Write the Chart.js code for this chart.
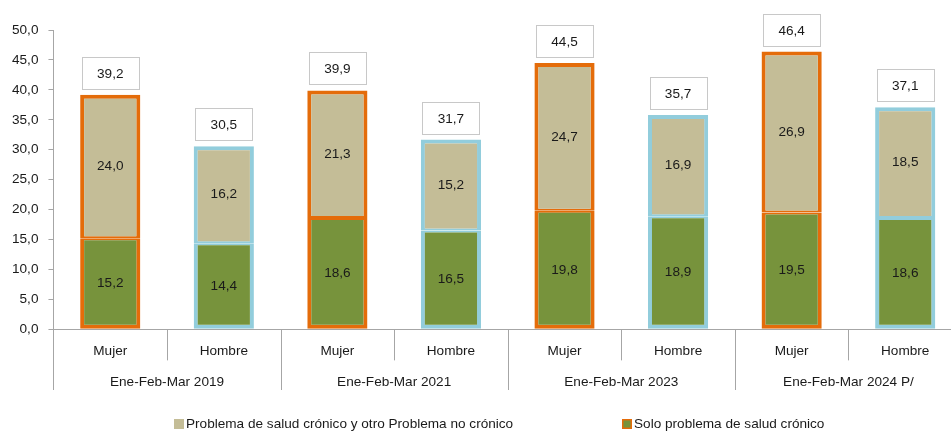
<!DOCTYPE html>
<html>
<head>
<meta charset="utf-8">
<script src="https://cdn.jsdelivr.net/npm/chart.js@4.4.0/dist/chart.umd.min.js"></script>
<style>
  html, body { margin: 0; padding: 0; background: #fff; overflow: hidden; }
  #wrap { width: 962px; height: 432px; }
</style>
</head>
<body>
<div id="wrap"><canvas id="chart"></canvas></div>
<script>
const categories = ['Mujer', 'Hombre', 'Mujer', 'Hombre', 'Mujer', 'Hombre', 'Mujer', 'Hombre'];
const periods = ['Ene-Feb-Mar 2019', 'Ene-Feb-Mar 2021', 'Ene-Feb-Mar 2023', 'Ene-Feb-Mar 2024 P/'];
const soloCronico = [15.2, 14.4, 18.6, 16.5, 19.8, 18.9, 19.5, 18.6];
const cronicoYOtro = [24.0, 16.2, 21.3, 15.2, 24.7, 16.9, 26.9, 18.5];
const totals = [39.2, 30.5, 39.9, 31.7, 44.5, 35.7, 46.4, 37.1];
const yTicks = [0, 5, 10, 15, 20, 25, 30, 35, 40, 45, 50];

const ORANGE = '#e46c0a';
const BLUE = '#92cddc';
const LINE = '#a6a6a6';
const FONT = "13.6px 'Liberation Sans', Arial, sans-serif";
const borders = categories.map(c => c === 'Mujer' ? ORANGE : BLUE);
const fmt = v => v.toFixed(1).replace('.', ',');

Chart.defaults.font.family = "'Liberation Sans', Arial, sans-serif";
Chart.defaults.font.size = 13.6;
Chart.defaults.color = '#1a1a1a';

// values inside segments + boxed totals
const labelsPlugin = {
  id: 'labels',
  afterDatasetsDraw(chart) {
    const ctx = chart.ctx;
    ctx.save();
    ctx.font = FONT;
    ctx.fillStyle = '#1a1a1a';
    ctx.textAlign = 'center';
    ctx.textBaseline = 'middle';
    chart.data.datasets.forEach((ds, di) => {
      chart.getDatasetMeta(di).data.forEach((bar, i) => {
        ctx.fillText(fmt(ds.data[i]), bar.x, (bar.y + bar.base) / 2);
      });
    });
    chart.getDatasetMeta(1).data.forEach((bar, i) => {
      const w = 57, h = 32;
      const y1 = Math.round(bar.y - 6 - h);
      const x1 = Math.round(bar.x - w / 2);
      ctx.fillStyle = '#fff';
      ctx.fillRect(x1, y1, w, h);
      ctx.strokeStyle = '#c8c8c8';
      ctx.lineWidth = 1;
      ctx.strokeRect(x1 + 0.5, y1 + 0.5, w, h);
      ctx.fillStyle = '#1a1a1a';
      ctx.fillText(fmt(totals[i]), bar.x, y1 + h / 2 + 1);
    });
    ctx.restore();
  }
};

// separators under the x axis (short between bars, long between periods)
const separatorsPlugin = {
  id: 'separators',
  afterDraw(chart) {
    const xs = chart.scales.x, x2 = chart.scales.x2;
    const step = xs.getPixelForValue(1) - xs.getPixelForValue(0);
    const ctx = chart.ctx;
    ctx.save();
    ctx.strokeStyle = LINE;
    ctx.lineWidth = 1;
    for (let i = 0; i <= categories.length; i++) {
      const px = Math.round(xs.getPixelForValue(i) - step / 2) + 0.5;
      const yEnd = i % 2 === 0 ? x2.bottom : xs.top + 31;
      ctx.beginPath();
      ctx.moveTo(px, xs.top);
      ctx.lineTo(px, yEnd);
      ctx.stroke();
    }
    ctx.restore();
  }
};

// legend drawn at the bottom
const legendPlugin = {
  id: 'bottomLegend',
  afterDraw(chart) {
    const ctx = chart.ctx;
    const items = [
      { ds: chart.data.datasets[1], x: 174 },
      { ds: chart.data.datasets[0], x: 622 }
    ];
    ctx.save();
    ctx.font = FONT;
    ctx.textBaseline = 'middle';
    ctx.textAlign = 'left';
    items.forEach((it, k) => {
      const y = 424;
      if (k === 1) {
        ctx.fillStyle = ORANGE;
        ctx.fillRect(it.x, y - 5, 10, 10);
        ctx.fillStyle = it.ds.backgroundColor;
        ctx.fillRect(it.x + 1.5, y - 3.5, 7, 7);
      } else {
        ctx.fillStyle = it.ds.backgroundColor;
        ctx.fillRect(it.x, y - 5, 10, 10);
      }
      ctx.fillStyle = '#1a1a1a';
      ctx.fillText(it.ds.label, it.x + 12, y);
    });
    ctx.restore();
  }
};

new Chart(document.getElementById('chart'), {
  type: 'bar',
  data: {
    labels: categories,
    datasets: [
      {
        label: 'Solo problema de salud crónico',
        data: soloCronico,
        backgroundColor: '#77933c',
        borderColor: borders,
        borderWidth: { top: 2, left: 4, right: 4, bottom: 4 },
        borderSkipped: false
      },
      {
        label: 'Problema de salud crónico y otro Problema no crónico',
        data: cronicoYOtro,
        backgroundColor: '#c4bd97',
        borderColor: borders,
        borderWidth: { top: 4, left: 4, right: 4, bottom: 2 },
        borderSkipped: false
      }
    ]
  },
  options: {
    responsive: true,
    maintainAspectRatio: false,
    animation: false,
    layout: { padding: { top: 30, left: 2, right: 0, bottom: 42 } },
    datasets: { bar: { categoryPercentage: 1, barPercentage: 0.53 } },
    plugins: { legend: { display: false }, tooltip: { enabled: false } },
    scales: {
      x: {
        stacked: true,
        grid: { drawOnChartArea: false, drawTicks: false },
        border: { color: LINE },
        ticks: { autoSkip: false, maxRotation: 0, padding: 14 }
      },
      x2: {
        type: 'category',
        labels: periods,
        position: 'bottom',
        offset: true,
        grid: { drawOnChartArea: false, drawTicks: false },
        border: { display: false },
        ticks: { autoSkip: false, maxRotation: 0, padding: 0 }
      },
      y: {
        stacked: true,
        min: 0,
        max: 50,
        afterBuildTicks: axis => { axis.ticks = yTicks.map(v => ({ value: v })); },
        grid: { drawOnChartArea: false, tickLength: 5, color: LINE },
        border: { color: LINE },
        ticks: { padding: 10, callback: v => fmt(v) }
      }
    }
  },
  plugins: [labelsPlugin, separatorsPlugin, legendPlugin]
});
</script>
</body>
</html>
